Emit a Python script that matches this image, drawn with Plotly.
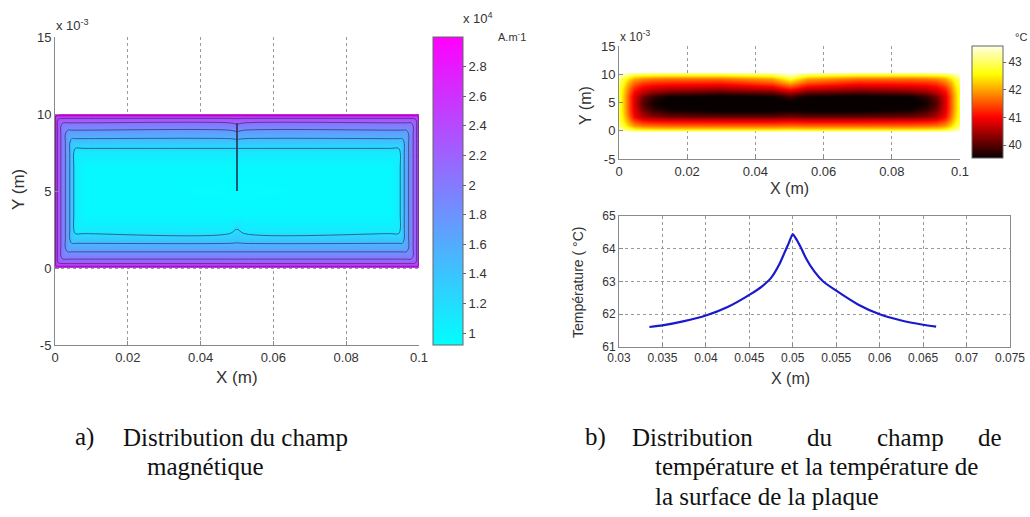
import plotly.graph_objects as go

W, H = 1030, 517


def PX(px):
    return px / W


def PY(py):
    return 1 - py / H


# ---------------- (a) magnetic field, units of 1e4 A/m ----------------
h_x = [0, 0.0003, 0.001, 0.0022, 0.0035, 0.0046, 0.0056, 0.008, 0.048, 0.05, 0.052,
       0.092, 0.0944, 0.0954, 0.0965, 0.0978, 0.099, 0.0997, 0.1]
h_prof_x = [2.95, 2.55, 2.25, 1.95, 1.65, 1.35, 1.08, 0.97, 0.95, 0.95, 0.95,
            0.97, 1.08, 1.35, 1.65, 1.95, 2.25, 2.55, 2.95]
h_y_mm = [0, 0.2, 0.5, 0.8, 1.3, 1.9, 2.5, 3.5, 5.0, 6.5, 7.5, 8.1, 8.7, 9.2, 9.5, 9.8, 10]
h_prof_y = [2.95, 2.5, 2.15, 1.95, 1.65, 1.35, 1.08, 0.97, 0.95, 0.97, 1.08, 1.35, 1.65,
            1.95, 2.15, 2.5, 2.95]
h_col_crack = [2.95, 2.5, 2.15, 1.95, 1.65, 1.38, 1.22, 0.97, 0.95, 0.97, 1.08, 1.35, 1.7,
               2.0, 2.2, 2.5, 2.95]
crack_x = [0.05, 0.05]
crack_y_mm = [5.0, 9.4]
h_ticks = [1, 1.2, 1.4, 1.6, 1.8, 2, 2.2, 2.4, 2.6, 2.8]
h_ticktext = ["1", "1.2", "1.4", "1.6", "1.8", "2", "2.2", "2.4", "2.6", "2.8"]
h_range = [0.92, 3.0]

# ---------------- (b) temperature field, deg C ----------------
t_x = [0, 0.0012, 0.0025, 0.0045, 0.007, 0.01, 0.015, 0.03, 0.045, 0.05, 0.055, 0.07,
       0.085, 0.09, 0.093, 0.0955, 0.0975, 0.0988, 0.1]
t_y_mm = [0, 0.4, 1.0, 1.7, 2.5, 3.2, 4.0, 5.0, 6.0, 6.8, 7.6, 8.5, 9.2, 9.7, 10]
t_row_y00 = [43.5, 43.4, 43.2, 43.0, 42.85, 42.8, 42.8, 42.8, 42.8, 42.9, 42.8, 42.8, 42.8, 42.8, 42.85, 43.0, 43.2, 43.4, 43.5]
t_row_y04 = [43.4, 43.1, 42.8, 42.45, 42.3, 42.25, 42.2, 42.2, 42.2, 42.25, 42.2, 42.2, 42.2, 42.25, 42.3, 42.45, 42.8, 43.1, 43.4]
t_row_y10 = [43.1, 42.8, 42.3, 41.9, 41.7, 41.65, 41.6, 41.6, 41.6, 41.65, 41.6, 41.6, 41.6, 41.65, 41.7, 41.9, 42.3, 42.8, 43.1]
t_row_y17 = [42.95, 42.55, 42.0, 41.5, 41.2, 41.1, 41.05, 41.0, 41.0, 41.05, 41.0, 41.0, 41.05, 41.1, 41.2, 41.5, 42.0, 42.55, 42.95]
t_row_y25 = [42.85, 42.4, 41.75, 41.0, 40.5, 40.3, 40.15, 40.1, 40.1, 40.2, 40.1, 40.1, 40.15, 40.3, 40.5, 41.0, 41.75, 42.4, 42.85]
t_row_y32 = [42.8, 42.35, 41.65, 40.9, 40.35, 40.0, 39.8, 39.65, 39.65, 39.75, 39.65, 39.65, 39.8, 40.0, 40.35, 40.9, 41.65, 42.35, 42.8]
t_row_y40 = [42.8, 42.3, 41.6, 40.85, 40.1, 39.75, 39.5, 39.38, 39.38, 39.5, 39.38, 39.38, 39.5, 39.75, 40.1, 40.85, 41.6, 42.3, 42.8]
t_row_y50 = [42.8, 42.3, 41.6, 40.8, 40.0, 39.6, 39.4, 39.3, 39.3, 39.5, 39.3, 39.3, 39.4, 39.6, 40.0, 40.8, 41.6, 42.3, 42.8]
t_row_y60 = [42.8, 42.3, 41.6, 40.85, 40.15, 39.8, 39.55, 39.45, 39.55, 39.85, 39.55, 39.45, 39.55, 39.8, 40.15, 40.85, 41.6, 42.3, 42.8]
t_row_y68 = [42.8, 42.35, 41.7, 41.0, 40.6, 40.3, 40.1, 39.95, 40.1, 40.5, 40.1, 39.95, 40.1, 40.3, 40.6, 41.0, 41.7, 42.35, 42.8]
t_row_y76 = [42.85, 42.45, 41.85, 41.3, 40.95, 40.8, 40.7, 40.6, 40.85, 41.35, 40.85, 40.6, 40.7, 40.8, 40.95, 41.3, 41.85, 42.45, 42.85]
t_row_y85 = [43.0, 42.65, 42.1, 41.7, 41.4, 41.3, 41.25, 41.2, 41.55, 42.1, 41.55, 41.2, 41.25, 41.3, 41.4, 41.7, 42.1, 42.65, 43.0]
t_row_y92 = [43.2, 42.9, 42.45, 42.05, 41.85, 41.75, 41.7, 41.7, 42.0, 42.7, 42.0, 41.7, 41.7, 41.75, 41.85, 42.05, 42.45, 42.9, 43.2]
t_row_y97 = [43.4, 43.15, 42.8, 42.45, 42.3, 42.25, 42.2, 42.2, 42.5, 43.2, 42.5, 42.2, 42.2, 42.25, 42.3, 42.45, 42.8, 43.15, 43.4]
t_row_y100 = [43.5, 43.4, 43.2, 43.0, 42.85, 42.8, 42.8, 42.8, 43.0, 43.5, 43.0, 42.8, 42.8, 42.8, 42.85, 43.0, 43.2, 43.4, 43.5]
t_ticks = [40, 41, 42, 43]
t_range = [39.53, 43.58]

# ---------------- (b) surface temperature profile ----------------
s_x = [0.0335, 0.035, 0.0375, 0.04, 0.0425, 0.045, 0.0465, 0.0475, 0.0485, 0.049, 0.0495,
       0.05, 0.0505, 0.051, 0.0515, 0.0525, 0.0535, 0.055, 0.0575, 0.06, 0.0625, 0.065, 0.0665]
s_temp = [61.61, 61.66, 61.79, 61.96, 62.22, 62.59, 62.86, 63.11, 63.55, 63.85, 64.15,
          64.45, 64.25, 64.0, 63.72, 63.3, 63.0, 62.72, 62.3, 62.0, 61.81, 61.68, 61.62]

x_ticks_a = [0, 0.02, 0.04, 0.06, 0.08, 0.1]
x_ticktext_a = ["0", "0.02", "0.04", "0.06", "0.08", "0.1"]
y_ticks_mm = [-5, 0, 5, 10, 15]
y_ticktext_mm = ["-5", "0", "5", "10", "15"]
x_ticks_s = [0.03, 0.035, 0.04, 0.045, 0.05, 0.055, 0.06, 0.065, 0.07, 0.075]
x_ticktext_s = ["0.03", "0.035", "0.04", "0.045", "0.05", "0.055", "0.06", "0.065", "0.07", "0.075"]
y_ticks_s = [61, 62, 63, 64, 65]

# build field table for (a) from the read profiles
h_z = []
for i, yv in enumerate(h_y_mm):
    row = []
    for j, xv in enumerate(h_x):
        if abs(xv - 0.05) < 1e-9:
            row.append(h_col_crack[i])
        else:
            row.append(max(h_prof_y[i], h_prof_x[j]))
    h_z.append(row)

t_z = [t_row_y00, t_row_y04, t_row_y10, t_row_y17, t_row_y25, t_row_y32, t_row_y40,
       t_row_y50, t_row_y60, t_row_y68, t_row_y76, t_row_y85, t_row_y92, t_row_y97,
       t_row_y100]

FONT = "Liberation Sans"
TXT = "#333333"
cool = [[0, "rgb(0,255,255)"], [1, "rgb(255,0,255)"]]
hot = [[0, "rgb(8,0,0)"], [0.365, "rgb(255,0,0)"], [0.746, "rgb(255,255,0)"],
       [1, "rgb(255,255,230)"]]

fig = go.Figure()

fig.add_trace(go.Contour(
    x=h_x, y=h_y_mm, z=h_z, xaxis="x", yaxis="y",
    colorscale=cool, zmin=h_range[0], zmax=h_range[1], showscale=False,
    autocontour=False,
    contours=dict(start=1.2, end=2.7, size=0.3, coloring="heatmap", showlines=True),
    line=dict(color="rgba(45,45,95,0.85)", width=0.8),
    hoverinfo="skip",
))
fig.add_trace(go.Scatter(x=crack_x, y=crack_y_mm, mode="lines", xaxis="x", yaxis="y",
                         line=dict(color="rgb(40,50,80)", width=1.6), hoverinfo="skip"))
# colour bar for (a)
fig.add_trace(go.Scatter(
    x=[None], y=[None], mode="markers", xaxis="x", yaxis="y", hoverinfo="skip",
    marker=dict(color=[h_range[0]], colorscale=cool, cmin=h_range[0], cmax=h_range[1],
                showscale=True,
                colorbar=dict(x=PX(433), xanchor="left", y=PY(191), yanchor="middle",
                              len=308 / H, lenmode="fraction", thickness=30,
                              thicknessmode="pixels", xpad=0, ypad=0, outlinewidth=1,
                              outlinecolor="#666", tickvals=h_ticks, ticktext=h_ticktext,
                              ticks="outside", ticklen=3, tickcolor="#666",
                              tickfont=dict(family=FONT, size=13, color=TXT))),
))

fig.add_trace(go.Heatmap(
    x=t_x, y=t_y_mm, z=t_z, xaxis="x2", yaxis="y2",
    colorscale=hot, zmin=t_range[0], zmax=t_range[1], zsmooth="best",
    colorbar=dict(x=PX(972), xanchor="left", y=PY(102), yanchor="middle",
                  len=112 / H, lenmode="fraction", thickness=31, thicknessmode="pixels",
                  xpad=0, ypad=0, outlinewidth=1, outlinecolor="#666",
                  tickvals=t_ticks, ticks="outside", ticklen=3, tickcolor="#666",
                  tickfont=dict(family=FONT, size=12, color=TXT)),
    hoverinfo="skip",
))

fig.add_trace(go.Scatter(x=s_x, y=s_temp, mode="lines", xaxis="x3", yaxis="y3",
                         line=dict(color="rgb(25,25,205)", width=2.2, shape="spline",
                                   smoothing=0.5),
                         hoverinfo="skip"))

axis_common = dict(showgrid=True, gridcolor="#9a9a9a", griddash="dot", gridwidth=1,
                   zeroline=False, showline=True, linecolor="#8a8a8a", linewidth=1,
                   ticks="inside", ticklen=4, tickcolor="#8a8a8a",
                   tickfont=dict(family=FONT, size=13, color=TXT))

fig.update_layout(
    width=W, height=H, margin=dict(l=0, r=0, t=0, b=0, autoexpand=False),
    paper_bgcolor="white", plot_bgcolor="white", showlegend=False,
    xaxis=dict(domain=[PX(55), PX(419)], range=[0, 0.1], tickvals=x_ticks_a,
               ticktext=x_ticktext_a, anchor="y", **axis_common),
    yaxis=dict(domain=[PY(345), PY(37)], range=[-5, 15], tickvals=y_ticks_mm,
               ticktext=y_ticktext_mm, anchor="x", **axis_common),
    xaxis2=dict(domain=[PX(619), PX(960)], range=[0, 0.1], tickvals=x_ticks_a,
                ticktext=x_ticktext_a, anchor="y2", **axis_common),
    yaxis2=dict(domain=[PY(159), PY(46)], range=[-5, 15], tickvals=y_ticks_mm,
                ticktext=y_ticktext_mm, anchor="x2", **axis_common),
    xaxis3=dict(domain=[PX(619), PX(1010)], range=[0.03, 0.075], tickvals=x_ticks_s,
                ticktext=x_ticktext_s, anchor="y3", mirror=True, **axis_common),
    yaxis3=dict(domain=[PY(347), PY(216)], range=[61, 65], tickvals=y_ticks_s,
                anchor="x3", mirror=True, **axis_common),
)
fig.layout.xaxis3.tickfont.size = 12
fig.layout.yaxis3.tickfont.size = 12


def ann(text, x, y, size=16, angle=0, xanchor="center", family=FONT, color=TXT):
    fig.add_annotation(text=text, x=PX(x), y=PY(y), xref="paper", yref="paper",
                       showarrow=False, textangle=angle, xanchor=xanchor, yanchor="middle",
                       font=dict(family=family, size=size, color=color))


# axis titles & multipliers
ann("Y (m)", 18, 190, 17, -90)
ann("X (m)", 237, 377, 17)
ann("x 10<sup>-3</sup>", 54, 25, 13, xanchor="left")
ann("x 10<sup>4</sup>", 461, 18, 13, xanchor="left")
ann("A.m<sup>-</sup>1", 496, 36, 11, xanchor="left")

ann("Y (m)", 585, 106, 16, -90)
ann("X (m)", 789, 188, 16)
ann("x 10<sup>-3</sup>", 618, 36, 12, xanchor="left")
ann("°C", 1013, 37, 11, xanchor="left")

ann("Température ( °C)", 578, 283, 14, -90)
ann("X (m)", 790, 378, 16)

# captions
SER = "Liberation Serif"
CAP = "#111111"
ann("a)", 73, 437, 25, xanchor="left", family=SER, color=CAP)
ann("Distribution du champ", 121, 437, 25, xanchor="left", family=SER, color=CAP)
ann("magnétique", 145, 466, 25, xanchor="left", family=SER, color=CAP)
ann("b)", 583, 437, 25, xanchor="left", family=SER, color=CAP)
ann("Distribution", 630, 437, 25, xanchor="left", family=SER, color=CAP)
ann("du", 805, 437, 25, xanchor="left", family=SER, color=CAP)
ann("champ", 875, 437, 25, xanchor="left", family=SER, color=CAP)
ann("de", 1004, 437, 25, xanchor="right", family=SER, color=CAP)
ann("température et la température de", 653, 466, 25, xanchor="left", family=SER, color=CAP)
ann("la surface de la plaque", 653, 496, 25, xanchor="left", family=SER, color=CAP)

fig.write_html(
    "out.html",
    config={"displayModeBar": False},
    post_script="document.body.style.margin='0';document.body.style.overflow='hidden';",
)
